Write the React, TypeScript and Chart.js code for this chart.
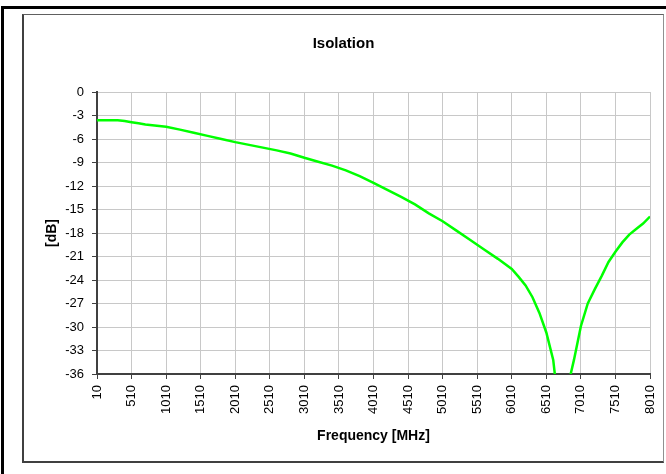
import React, { useEffect, useRef } from "react";
import { Chart, registerables } from "chart.js";

Chart.register(...registerables);

const chartTitle = "Isolation";
const xAxisTitle = "Frequency [MHz]";
const yAxisTitle = "[dB]";

const frequencies = [
  10, 110, 210, 310, 410, 510, 610, 710, 810, 910, 1010, 1210, 1410, 1610, 1810,
  2010, 2210, 2410, 2610, 2810, 3010, 3210, 3410, 3610, 3810, 4010, 4210, 4410,
  4610, 4810, 5010, 5210, 5410, 5610, 5810, 6010, 6110, 6210, 6310, 6410, 6510,
  6610, 6710, 6810, 6910, 7010, 7110, 7210, 7310, 7410, 7510, 7610, 7710, 7810,
  7910, 8010,
];

const isolation = [
  -3.6, -3.6, -3.6, -3.6, -3.7, -3.85, -4.0, -4.15, -4.25, -4.35, -4.45, -4.8,
  -5.2, -5.6, -6.0, -6.4, -6.75, -7.1, -7.45, -7.85, -8.4, -8.9, -9.4, -10.0,
  -10.75, -11.6, -12.5, -13.4, -14.35, -15.5, -16.5, -17.7, -18.9, -20.1, -21.3,
  -22.6, -23.6, -24.7, -26.2, -28.2, -30.7, -34.2, -42.0, -38.0, -34.2, -29.9,
  -27.0, -25.2, -23.5, -21.7, -20.4, -19.2, -18.2, -17.5, -16.8, -15.9,
];

const xTickValues = [
  10, 510, 1010, 1510, 2010, 2510, 3010, 3510, 4010, 4510, 5010, 5510, 6010,
  6510, 7010, 7510, 8010,
];

const yMin = -36;
const yMax = 0;
const yStep = 3;

const FONT = "'Liberation Sans', Arial, Helvetica, sans-serif";

export default function App() {
  const canvasRef = useRef<HTMLCanvasElement | null>(null);

  useEffect(() => {
    const canvas = canvasRef.current;
    if (!canvas) return;
    const chart = new Chart(canvas, {
      type: "line",
      data: {
        datasets: [
          {
            label: chartTitle,
            data: frequencies.map((f, i) => ({ x: f, y: isolation[i] })),
            borderColor: "#00ff00",
            backgroundColor: "#00ff00",
            borderWidth: 2.5,
            pointRadius: 0,
            tension: 0,
            fill: false,
          },
        ],
      },
      options: {
        responsive: false,
        animation: false,
        devicePixelRatio: 1,
        layout: { padding: { left: 0, right: 0, top: 0, bottom: 0 } },
        plugins: {
          legend: { display: false },
          tooltip: { enabled: false },
          title: {
            display: true,
            text: chartTitle,
            color: "#000",
            font: { family: FONT, size: 15, weight: "bold" },
            padding: { top: 20, bottom: 39 },
          },
        },
        scales: {
          x: {
            type: "linear",
            min: 10,
            max: 8010,
            afterBuildTicks: (scale: any) => {
              scale.ticks = xTickValues.map((v) => ({ value: v }));
            },
            afterFit: (scale: any) => {
              scale.height = 87;
              scale.paddingLeft = 0;
              scale.paddingRight = 13;
            },
            ticks: {
              minRotation: 90,
              maxRotation: 90,
              autoSkip: false,
              padding: 6,
              color: "#000",
              font: { family: FONT, size: 13 },
              callback: (v: any) => String(v),
            },
            grid: {
              color: "#c8c8c8",
              lineWidth: 1,
              tickColor: "#404040",
              tickLength: 5,
            },
            border: { color: "#404040", width: 2 },
            title: {
              display: true,
              text: xAxisTitle,
              color: "#000",
              font: { family: FONT, size: 14, weight: "bold" },
              padding: { top: 0, bottom: 16.6 },
            },
          },
          y: {
            type: "linear",
            min: yMin,
            max: yMax,
            afterFit: (scale: any) => {
              scale.width = 73;
            },
            ticks: {
              stepSize: yStep,
              padding: 8,
              color: "#000",
              font: { family: FONT, size: 13 },
            },
            grid: {
              color: "#c8c8c8",
              lineWidth: 1,
              tickColor: "#404040",
              tickLength: 5,
            },
            border: { color: "#404040", width: 2 },
            title: {
              display: true,
              text: yAxisTitle,
              color: "#000",
              font: { family: FONT, size: 14, weight: "bold" },
              padding: { top: 20, bottom: 0 },
            },
          },
        },
      },
    });
    return () => chart.destroy();
  }, []);

  return (
    <div
      style={{
        position: "fixed",
        left: 0,
        top: 0,
        width: 666,
        height: 474,
        background: "#fff",
        overflow: "hidden",
      }}
    >
      <div
        style={{
          position: "absolute",
          left: 1,
          top: 6,
          width: 800,
          height: 600,
          borderTop: "3px solid #000",
          borderLeft: "3px solid #000",
        }}
      />
      <div
        style={{
          position: "absolute",
          left: 22,
          top: 14,
          width: 642,
          height: 449,
          boxSizing: "border-box",
          borderTop: "1px solid #606060",
          borderRight: "1px solid #909090",
          borderLeft: "2px solid #404040",
          borderBottom: "2px solid #404040",
          background: "#fff",
        }}
      >
        <canvas
          ref={canvasRef}
          width={639}
          height={446}
          style={{ position: "absolute", left: 0, top: 0, width: 639, height: 446 }}
        />
      </div>
    </div>
  );
}
